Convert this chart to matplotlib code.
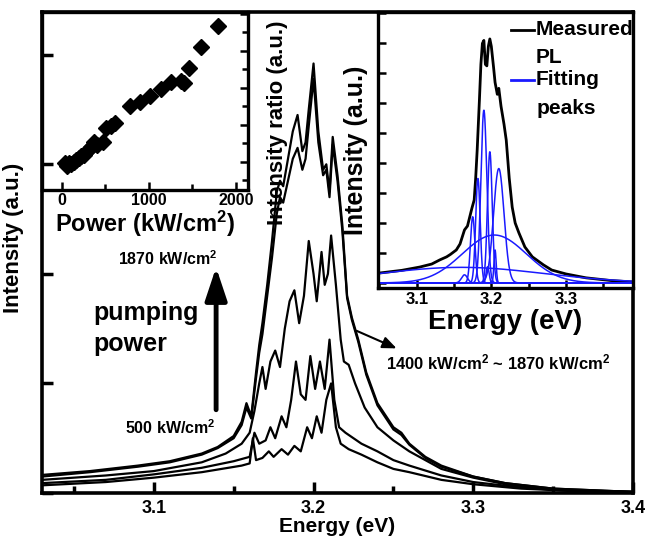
import numpy as np
import matplotlib
matplotlib.use("Agg")
import matplotlib.pyplot as plt
from matplotlib.ticker import MultipleLocator

plt.rcParams['font.family'] = ['Liberation Sans', 'DejaVu Sans']
plt.rcParams['font.weight'] = 'bold'
plt.rcParams['mathtext.fontset'] = 'custom'
plt.rcParams['mathtext.rm'] = 'Liberation Sans:bold'
plt.rcParams['mathtext.it'] = 'Liberation Sans:bold'
plt.rcParams['mathtext.bf'] = 'Liberation Sans:bold'

# ---- main spectra (energy in eV, intensity in a.u.), 500 -> 1870 kW/cm2
e1 = [3.03, 3.07, 3.10, 3.13, 3.155, 3.160, 3.162, 3.164, 3.168, 3.172, 3.175, 3.180, 3.184, 3.188,
      3.192, 3.196, 3.199, 3.202, 3.205, 3.208, 3.211, 3.214, 3.217, 3.222, 3.230, 3.240, 3.250,
      3.260, 3.280, 3.300, 3.330, 3.360, 3.400]
i1 = [0.07, 0.10, 0.14, 0.19, 0.25, 0.27, 0.50, 0.30, 0.32, 0.38, 0.33, 0.40, 0.35, 0.43,
      0.38, 0.60, 0.50, 0.70, 0.55, 0.85, 1.00, 0.60, 0.45, 0.40, 0.35, 0.28, 0.22,
      0.19, 0.12, 0.08, 0.04, 0.02, 0.01]

e2 = [3.03, 3.07, 3.10, 3.13, 3.15, 3.160, 3.163, 3.166, 3.170, 3.173, 3.176, 3.180, 3.183, 3.186,
      3.189, 3.192, 3.195, 3.198, 3.201, 3.204, 3.207, 3.210, 3.213, 3.216, 3.220, 3.225, 3.230,
      3.240, 3.250, 3.260, 3.280, 3.300, 3.330, 3.360, 3.400]
i2 = [0.09, 0.12, 0.17, 0.23, 0.29, 0.33, 0.55, 0.45, 0.48, 0.60, 0.50, 0.70, 0.60, 0.85,
      1.20, 0.90, 0.85, 1.25, 0.95, 1.20, 0.95, 1.40, 0.85, 0.60, 0.55, 0.50, 0.45,
      0.38, 0.30, 0.25, 0.16, 0.10, 0.05, 0.02, 0.01]

e3 = [3.03, 3.07, 3.10, 3.13, 3.145, 3.155, 3.160, 3.163, 3.166, 3.168, 3.170, 3.173, 3.176, 3.179,
      3.182, 3.185, 3.188, 3.191, 3.194, 3.197, 3.200, 3.202, 3.205, 3.207, 3.209, 3.211, 3.214,
      3.217, 3.219, 3.222, 3.226, 3.232, 3.240, 3.250, 3.260, 3.270, 3.280, 3.300, 3.320, 3.350, 3.400]
i3 = [0.12, 0.16, 0.20, 0.28, 0.36, 0.45, 0.55, 0.75, 1.00, 1.15, 0.95, 1.20, 1.30, 1.15,
      1.50, 1.75, 1.85, 1.55, 1.80, 2.30, 2.00, 1.75, 2.20, 1.90, 2.00, 2.35, 1.90,
      1.40, 1.20, 1.17, 1.00, 0.78, 0.60, 0.48, 0.38, 0.30, 0.22, 0.14, 0.08, 0.03, 0.01]

e4 = [3.03, 3.06, 3.09, 3.11, 3.13, 3.14, 3.15, 3.155, 3.158, 3.161, 3.164, 3.166, 3.168, 3.171,
      3.174, 3.177, 3.179, 3.181, 3.184, 3.187, 3.190, 3.193, 3.195, 3.197, 3.200, 3.203, 3.206,
      3.208, 3.210, 3.212, 3.215, 3.218, 3.221, 3.224, 3.228, 3.233, 3.240, 3.250, 3.255, 3.260,
      3.270, 3.280, 3.300, 3.320, 3.350, 3.400]
i4 = [0.15, 0.19, 0.24, 0.28, 0.35, 0.41, 0.50, 0.62, 0.78, 0.68, 1.05, 1.28, 1.45, 1.80,
      2.15, 2.55, 2.70, 2.65, 2.85, 3.05, 3.15, 2.95, 3.05, 3.35, 3.78, 3.20, 2.90,
      2.95, 2.70, 3.18, 2.85, 2.40, 1.78, 1.58, 1.38, 1.08, 0.80, 0.58, 0.53, 0.44,
      0.32, 0.24, 0.15, 0.09, 0.04, 0.01]

e5 = [3.03, 3.06, 3.09, 3.11, 3.13, 3.14, 3.15, 3.155, 3.158, 3.161, 3.164, 3.166, 3.168, 3.171,
      3.174, 3.177, 3.179, 3.181, 3.184, 3.187, 3.190, 3.193, 3.195, 3.197, 3.200, 3.203, 3.206,
      3.208, 3.210, 3.212, 3.215, 3.218, 3.221, 3.224, 3.228, 3.233, 3.240, 3.250, 3.255, 3.260,
      3.270, 3.280, 3.300, 3.320, 3.350, 3.400]
i5 = [0.165, 0.20, 0.25, 0.29, 0.36, 0.42, 0.52, 0.65, 0.82, 0.70, 1.10, 1.35, 1.55, 1.90,
      2.30, 2.75, 2.85, 2.80, 3.05, 3.30, 3.45, 3.12, 3.20, 3.50, 3.92, 3.30, 2.95,
      3.00, 2.75, 3.25, 2.90, 2.45, 1.80, 1.60, 1.40, 1.10, 0.82, 0.60, 0.55, 0.45,
      0.33, 0.25, 0.15, 0.09, 0.04, 0.01]

spectra = [(e1, i1), (e2, i2), (e3, i3), (e4, i4), (e5, i5)]

# ---- inset 1: intensity ratio vs pumping power
power = [34, 57, 80, 100, 136, 165, 193, 220, 250, 290, 330, 364, 400, 477, 511, 560, 614,
         784, 898, 1011, 1136, 1250, 1364, 1400, 1466, 1600, 1790]
ratio = [0.97, 0.89, 0.97, 0.95, 1.00, 1.05, 1.11, 1.15, 1.19, 1.30, 1.41, 1.54, 1.45, 1.54,
         1.92, 1.98, 2.05, 2.51, 2.62, 2.78, 2.97, 3.16, 3.19, 3.12, 3.54, 4.11, 4.68]

# ---- inset 2: measured PL and fitted peaks
pl_e = [3.050, 3.080, 3.104, 3.120, 3.131, 3.140, 3.145, 3.153, 3.158, 3.164, 3.168, 3.171,
        3.174, 3.177, 3.179, 3.181, 3.184, 3.186, 3.188, 3.190, 3.192, 3.194, 3.196, 3.198,
        3.200, 3.203, 3.205, 3.208, 3.210, 3.213, 3.217, 3.220, 3.224, 3.228, 3.232, 3.237,
        3.245, 3.255, 3.270, 3.281, 3.300, 3.327, 3.360, 3.390]
pl_i = [0.33, 0.42, 0.53, 0.63, 0.77, 0.87, 0.95, 1.10, 1.30, 1.77, 1.90, 2.20,
        2.50, 2.77, 3.50, 4.43, 6.10, 7.30, 8.00, 8.10, 7.30, 7.25, 7.90, 8.15,
        7.90, 7.20, 6.70, 6.30, 6.50, 5.90, 5.30, 4.77, 3.50, 2.53, 2.00, 1.67,
        1.20, 0.87, 0.60, 0.43, 0.30, 0.17, 0.08, 0.03]
fit_center = [3.160, 3.204, 3.190, 3.198, 3.210, 3.182, 3.175, 3.164, 3.205, 3.195]
fit_height = [0.52, 1.60, 5.77, 4.38, 3.82, 3.49, 2.21, 0.27, 1.10, 0.54]
fit_sigma = [0.110, 0.043, 0.0040, 0.0032, 0.0070, 0.0030, 0.0030, 0.0040, 0.0015, 0.0020]

W, H = 657, 543
fig = plt.figure(figsize=(W / 100, H / 100), dpi=100)


def box(l, t, r, b):
    return [l / W, (H - b) / H, (r - l) / W, (b - t) / H]


# ---------- main axes
ax = fig.add_axes(box(42, 12, 633, 493))
for e, i in spectra:
    ax.plot(e, i, color='k', lw=1.6)
ax.set_xlim(3.03, 3.40)
ax.set_ylim(0, 4.39)
ax.xaxis.set_major_locator(MultipleLocator(0.1))
ax.xaxis.set_minor_locator(MultipleLocator(0.05))
ax.yaxis.set_major_locator(MultipleLocator(1))
ax.set_yticklabels([])
ax.tick_params(which='both', direction='in', width=2.5, top=False, right=False)
ax.tick_params(which='major', length=8, labelsize=13, pad=5)
ax.tick_params(which='minor', length=5)
for s in ax.spines.values():
    s.set_linewidth(2.6)
ax.set_xlabel('Energy (eV)', fontsize=15, fontweight='bold', labelpad=0)
ax.set_ylabel('Intensity (a.u.)', fontsize=16, fontweight='bold')
ax.yaxis.set_label_coords(-0.03, 0.53)

ax.annotate('', xy=(3.139, 2.06), xytext=(3.139, 0.76),
            arrowprops=dict(arrowstyle='-|>,head_length=0.9,head_width=0.3',
                            mutation_scale=22, lw=3.5, color='k', shrinkA=0, shrinkB=0))
ax.annotate('', xy=(3.252, 1.32), xytext=(3.227, 1.48),
            arrowprops=dict(arrowstyle='-|>,head_length=0.6,head_width=0.25',
                            mutation_scale=14, lw=1.5, color='k', shrinkA=0, shrinkB=0))
ax.text(3.0775, 2.14, '1870 kW/cm$^2$', fontsize=11.5, va='center', ha='left')
ax.text(3.082, 0.60, '500 kW/cm$^2$', fontsize=11.5, va='center', ha='left')
ax.text(3.062, 1.50, 'pumping\npower', fontsize=18, va='center', ha='left', linespacing=1.35)
ax.text(3.2455, 1.19, '1400 kW/cm$^2$ ~ 1870 kW/cm$^2$', fontsize=12, va='center', ha='left')

# ---------- inset 1
a1 = fig.add_axes(box(42, 12, 248, 190))
a1.set_facecolor('none')
a1.plot(power, ratio, 'D', color='k', ms=8.5, mec='k')
a1.set_xlim(-230, 2140)
a1.set_ylim(0.24, 5.05)
a1.xaxis.set_major_locator(MultipleLocator(1000))
a1.xaxis.set_minor_locator(MultipleLocator(500))
a1.yaxis.set_major_locator(MultipleLocator(1))
a1.yaxis.set_minor_locator(MultipleLocator(0.5))
a1.tick_params(which='both', direction='in', width=1.8, left=False, labelleft=False,
               right=True, labelright=False, top=False)
a1.tick_params(which='major', length=6, labelsize=11.5, pad=2)
a1.tick_params(which='minor', length=4)
for s in a1.spines.values():
    s.set_linewidth(2.4)
a1.set_xlabel('Power (kW/cm$^2$)', fontsize=17, fontweight='bold', labelpad=1)
a1.set_ylabel('Intensity ratio (a.u.)', fontsize=16, fontweight='bold')
a1.yaxis.set_label_position('right')
a1.yaxis.set_label_coords(1.09, 0.38)

# ---------- inset 2
a2 = fig.add_axes(box(378, 12, 633, 288))
a2.plot(pl_e, pl_i, color='k', lw=2)
ef = np.linspace(3.04, 3.40, 1500)
for c, h, s in zip(fit_center, fit_height, fit_sigma):
    a2.plot(ef, h * np.exp(-(ef - c) ** 2 / (2 * s ** 2)), color='#1a1aff', lw=1.1)
a2.set_xlim(3.048, 3.39)
a2.set_ylim(-0.17, 9.05)
a2.xaxis.set_major_locator(MultipleLocator(0.1))
a2.xaxis.set_minor_locator(MultipleLocator(0.05))
a2.yaxis.set_major_locator(MultipleLocator(1))
a2.set_yticklabels([])
a2.tick_params(which='both', direction='in', width=1.8, top=False, right=False)
a2.tick_params(which='major', length=6, labelsize=12, pad=3)
a2.tick_params(which='minor', length=4)
for s in a2.spines.values():
    s.set_linewidth(2.4)
a2.set_xlabel('Energy (eV)', fontsize=20, fontweight='bold', labelpad=1)
a2.set_ylabel('Intensity (a.u.)', fontsize=18, fontweight='bold', labelpad=4)

a2.plot([0.52, 0.61], [0.935, 0.935], color='k', lw=2, transform=a2.transAxes)
a2.plot([0.52, 0.61], [0.754, 0.754], color='#1a1aff', lw=2, transform=a2.transAxes)
for yy, label in zip([0.935, 0.834, 0.754, 0.652], ['Measured', 'PL', 'Fitting', 'peaks']):
    a2.text(0.62, yy, label, transform=a2.transAxes, fontsize=15, va='center', ha='left')

fig.savefig('out.png', dpi=100)
